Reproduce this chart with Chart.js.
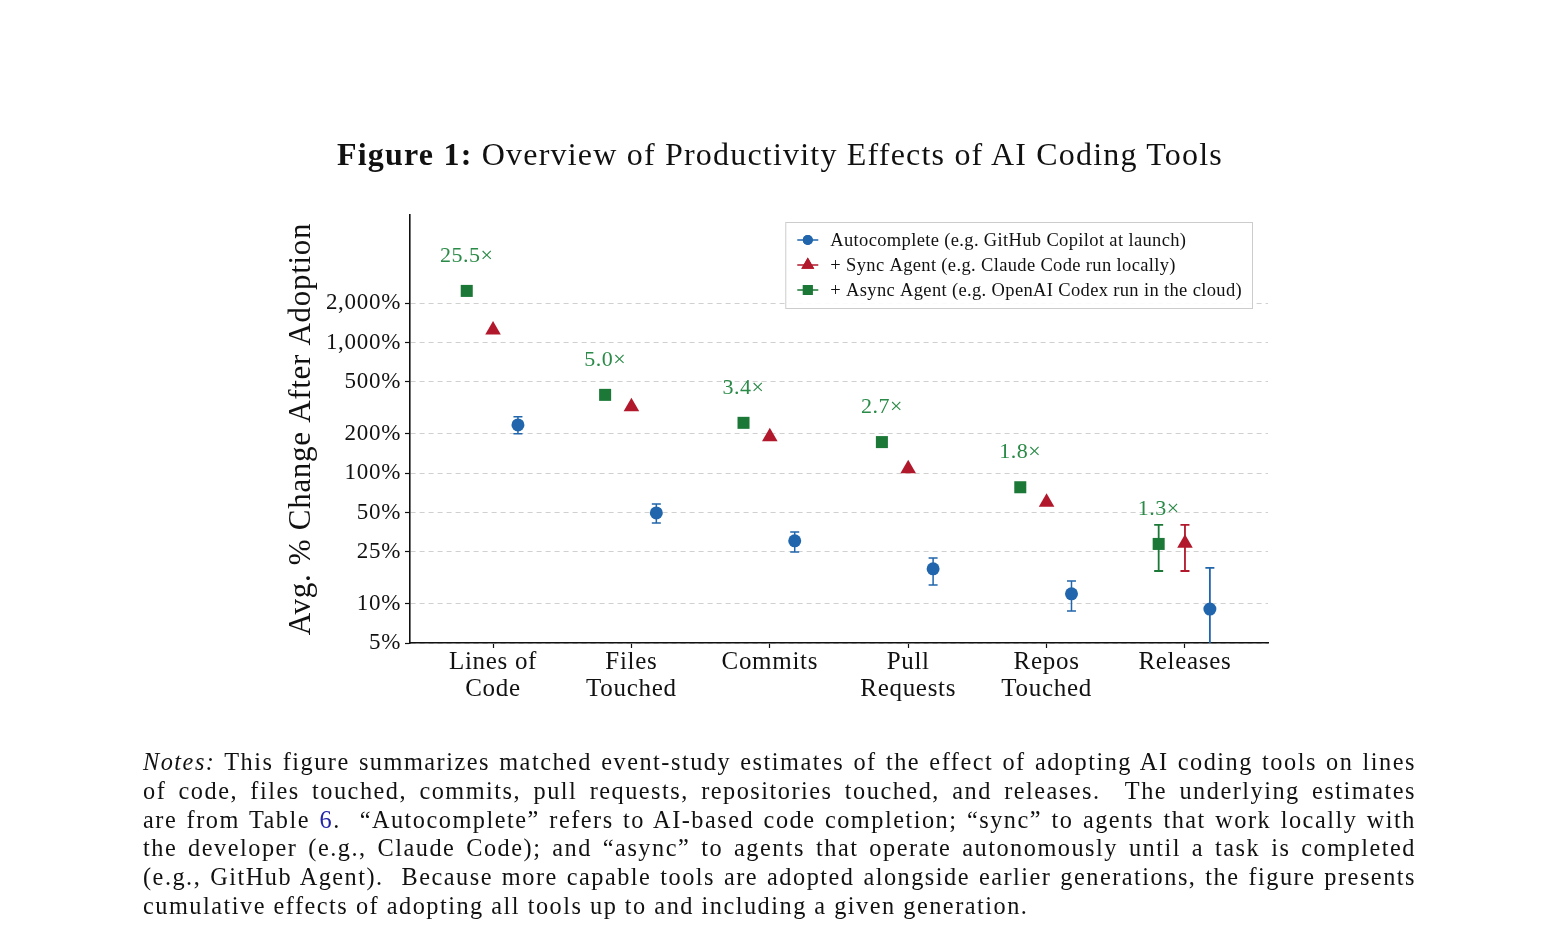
<!DOCTYPE html>
<html>
<head>
<meta charset="utf-8">
<script src="https://cdn.jsdelivr.net/npm/chart.js@4/dist/chart.umd.min.js"></script>
<style>
  body { margin: 0; background: #fff; font-family: "Liberation Serif", serif; color: #111; }
  #wrap { position: relative; width: 1560px; height: 945px; overflow: hidden; }
  #chart { position: absolute; left: 0; top: 0; }
  #title { position: absolute; left: 0; top: 136px; width: 1560px; text-align: center; font-size: 32px; letter-spacing: 1.2px; }
  #notes { position: absolute; left: 143px; top: 748px; width: 1273px; font-size: 24.3px; line-height: 28.8px; letter-spacing: 1.5px; }
  #notes div { text-align: justify; text-align-last: justify; white-space: nowrap; }
  #notes div.last { text-align-last: left; }
  .ref { color: #2424a8; }
</style>
</head>
<body>
<div id="wrap">
  <canvas id="chart" width="1560" height="945"></canvas>
  <div id="title"><b>Figure 1:</b> Overview of Productivity Effects of AI Coding Tools</div>
  <div id="notes">
    <div><i>Notes:</i> This figure summarizes matched event-study estimates of the effect of adopting AI coding tools on lines</div>
    <div>of code, files touched, commits, pull requests, repositories touched, and releases.&nbsp; The underlying estimates</div>
    <div>are from Table <span class="ref">6</span>.&nbsp; “Autocomplete” refers to AI-based code completion; “sync” to agents that work locally with</div>
    <div>the developer (e.g., Claude Code); and “async” to agents that operate autonomously until a task is completed</div>
    <div>(e.g., GitHub Agent).&nbsp; Because more capable tools are adopted alongside earlier generations, the figure presents</div>
    <div class="last">cumulative effects of adopting all tools up to and including a given generation.</div>
  </div>
</div>
<script>
// categories and tick labels
const categories = [['Lines of', 'Code'], ['Files', 'Touched'], 'Commits', ['Pull', 'Requests'], ['Repos', 'Touched'], 'Releases'];
const yTicks = [5, 10, 25, 50, 100, 200, 500, 1000, 2000];

// avg % change after adoption
const autoValues  = [234, 49.6, 30.3, 18.5, 11.9, 9.1];
const autoLow     = [200, 41.6, 24.9, 13.9, 8.8, 2];
const autoHigh    = [270, 58.1, 35.5, 22.4, 14.9, 18.8];
const syncValues  = [1252, 322, 190, 108, 60, 29];
const syncLow     = [null, null, null, null, null, 17.8];
const syncHigh    = [null, null, null, null, null, 40.1];
const asyncValues = [2490, 398, 243, 173, 78, 28.7];
const asyncLow    = [null, null, null, null, null, 17.8];
const asyncHigh   = [null, null, null, null, null, 40.1];
const ratioLabels = ['25.5×', '5.0×', '3.4×', '2.7×', '1.8×', '1.3×'];

const BLUE = '#2166ac', RED = '#b2182b', GREEN = '#1b7837';
const FONT = '"Liberation Serif", serif';

function pts(values, offset) {
  return values.map((v, i) => ({ x: i + offset, y: v }));
}

const series = [
  { label: 'Autocomplete (e.g. GitHub Copilot at launch)', values: autoValues, low: autoLow, high: autoHigh,
    offset: 0.18, color: BLUE, style: 'circle', radius: 6.5, legendRadius: 5 },
  { label: '+ Sync Agent (e.g. Claude Code run locally)', values: syncValues, low: syncLow, high: syncHigh,
    offset: 0, color: RED, style: 'triangle', radius: 9, legendRadius: 7.5 },
  { label: '+ Async Agent (e.g. OpenAI Codex run in the cloud)', values: asyncValues, low: asyncLow, high: asyncHigh,
    offset: -0.19, color: GREEN, style: 'rect', radius: 8.5, legendRadius: 7 }
];

// wider spacing so the serif text takes about the room of the original face
const spacing = {
  id: 'spacing',
  beforeDraw(chart) { chart.ctx.letterSpacing = '0.7px'; }
};

// error bars under the markers
const errorBars = {
  id: 'errorBars',
  beforeDatasetsDraw(chart) {
    const { ctx, chartArea, scales: { x, y } } = chart;
    ctx.save();
    ctx.beginPath();
    ctx.rect(chartArea.left, chartArea.top, chartArea.right - chartArea.left, chartArea.bottom - chartArea.top);
    ctx.clip();
    series.forEach(s => {
      ctx.strokeStyle = s.color;
      s.values.forEach((v, i) => {
        if (s.low[i] == null) return;
        const px = x.getPixelForValue(i + s.offset);
        const lo = y.getPixelForValue(s.low[i]);
        const hi = y.getPixelForValue(s.high[i]);
        ctx.lineWidth = hi - lo < -40 ? 1.8 : 1.5;
        ctx.beginPath();
        ctx.moveTo(px, lo); ctx.lineTo(px, hi);
        ctx.moveTo(px - 4.5, hi); ctx.lineTo(px + 4.5, hi);
        ctx.moveTo(px - 4.5, lo); ctx.lineTo(px + 4.5, lo);
        ctx.stroke();
      });
    });
    ctx.restore();
  }
};

// ratio labels above the async markers, plus the legend box
const overlay = {
  id: 'overlay',
  afterDraw(chart) {
    const { ctx, chartArea, scales: { x, y } } = chart;
    const asyncS = series[2];
    ctx.save();
    ctx.fillStyle = '#2a8a47';
    ctx.font = '22px ' + FONT;
    ctx.letterSpacing = '0.5px';
    ctx.textAlign = 'center';
    ctx.textBaseline = 'middle';
    ratioLabels.forEach((t, i) => {
      ctx.fillText(t, x.getPixelForValue(i + asyncS.offset), y.getPixelForValue(asyncS.values[i]) - 35);
    });

    ctx.font = '18.5px ' + FONT;
    ctx.letterSpacing = '0.35px';
    const textW = Math.max(...series.map(s => ctx.measureText(s.label).width));
    const boxW = 45 + textW + 10;
    const boxR = chartArea.right - 16;
    const boxL = boxR - boxW;
    const boxT = chartArea.top + 7;
    const rowH = 25;
    ctx.fillStyle = 'rgba(255,255,255,0.9)';
    ctx.strokeStyle = '#cccccc';
    ctx.lineWidth = 1;
    ctx.fillRect(boxL, boxT, boxW, rowH * 3 + 11);
    ctx.strokeRect(boxL + 0.5, boxT + 0.5, boxW, rowH * 3 + 11);
    ctx.textAlign = 'left';
    series.forEach((s, k) => {
      const cy = boxT + 18 + k * rowH;
      ctx.strokeStyle = s.color;
      ctx.lineWidth = 1.5;
      ctx.beginPath();
      ctx.moveTo(boxL + 12, cy); ctx.lineTo(boxL + 33, cy);
      ctx.stroke();
      ctx.fillStyle = s.color;
      Chart.helpers.drawPoint(ctx, { pointStyle: s.style, radius: s.legendRadius, borderWidth: 0 }, boxL + 22.5, cy);
      ctx.fill();
      ctx.fillStyle = '#111';
      ctx.fillText(s.label, boxL + 45, cy + 1);
    });
    ctx.restore();
  }
};

new Chart(document.getElementById('chart').getContext('2d'), {
  type: 'scatter',
  data: {
    datasets: series.map(s => ({
      label: s.label,
      data: pts(s.values, s.offset),
      pointStyle: s.style,
      pointRadius: s.radius,
      pointHoverRadius: s.radius,
      backgroundColor: s.color,
      borderColor: s.color,
      borderWidth: 0
    }))
  },
  options: {
    responsive: false,
    animation: false,
    devicePixelRatio: 1,
    layout: { padding: { left: 280, top: 215, right: 292, bottom: 212 } },
    plugins: { legend: { display: false }, tooltip: { enabled: false } },
    scales: {
      x: {
        type: 'linear',
        min: -0.6,
        max: 5.6,
        afterBuildTicks: s => { s.ticks = categories.map((c, i) => ({ value: i })); },
        afterFit: s => { s.height = 90; },
        border: { color: '#111', width: 1.6 },
        grid: { drawOnChartArea: false, drawTicks: true, tickLength: 5, tickColor: '#111', tickWidth: 1.2 },
        ticks: {
          color: '#111',
          padding: 1,
          maxRotation: 0,
          font: { family: FONT, size: 25, lineHeight: 1.08 },
          callback: v => categories[v]
        }
      },
      y: {
        type: 'logarithmic',
        min: 5,
        max: 9500,
        afterBuildTicks: s => { s.ticks = yTicks.map(v => ({ value: v })); },
        afterFit: s => { s.width = 130; },
        border: { color: '#111', width: 1.6, dash: [5, 4] },
        grid: {
          color: '#d0d0d0',
          lineWidth: 1,
          tickLength: 5,
          tickColor: '#111',
          tickWidth: 1.2,
          tickBorderDash: []
        },
        ticks: {
          color: '#111',
          padding: 4,
          font: { family: FONT, size: 23 },
          callback: v => v.toLocaleString('en-US') + '%'
        },
        title: {
          display: true,
          text: 'Avg. % Change After Adoption',
          color: '#111',
          font: { family: FONT, size: 31 },
          padding: { top: 3, bottom: 0 }
        }
      }
    }
  },
  plugins: [spacing, errorBars, overlay]
});
</script>
</body>
</html>
